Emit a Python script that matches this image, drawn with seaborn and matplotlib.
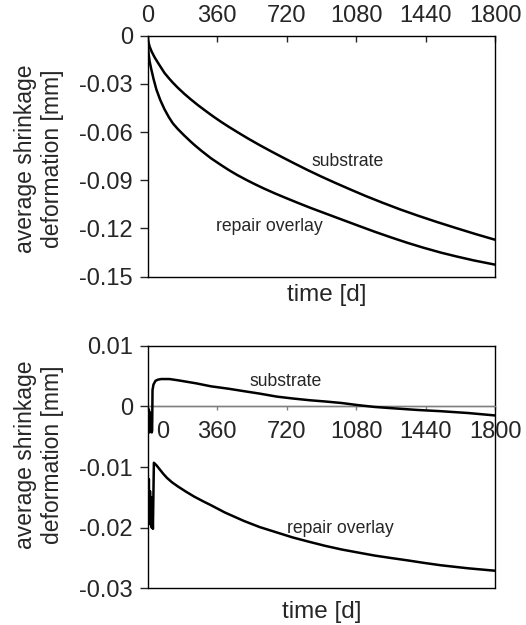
import numpy as np
import pandas as pd
import matplotlib
matplotlib.use("Agg")
import matplotlib.pyplot as plt
import matplotlib.transforms as mtransforms
import seaborn as sns

# 数据
days_ticks = [0, 360, 720, 1080, 1440, 1800]

# upper panel: total shrinkage deformation
top_sub_days = [0, 2, 5, 10, 20, 36, 55, 70, 87, 110, 130, 156, 190, 220, 260, 300, 340, 380, 420, 470,
                520, 580, 640, 700, 760, 830, 900, 970, 1050, 1130, 1220, 1310, 1400, 1500, 1600, 1700, 1800]
top_sub_vals = [0, -0.0027, -0.0045, -0.0068, -0.0098, -0.0135, -0.0172, -0.0200, -0.0232, -0.0265,
                -0.0292, -0.0324, -0.0362, -0.0393, -0.0432, -0.0468, -0.0503, -0.0536, -0.0567, -0.0604,
                -0.0640, -0.0681, -0.0720, -0.0758, -0.0795, -0.0837, -0.0877, -0.0915, -0.0957, -0.0998,
                -0.1041, -0.1082, -0.1120, -0.1160, -0.1198, -0.1235, -0.1270]
top_rep_days = [0, 1, 3, 6, 10, 19, 30, 45, 65, 87, 110, 130, 156, 190, 220, 242, 280, 328, 380, 420,
                465, 520, 560, 602, 660, 720, 773, 840, 920, 1005, 1090, 1176, 1260, 1348, 1430, 1519,
                1600, 1691, 1800]
top_rep_vals = [0, -0.0050, -0.0090, -0.0125, -0.0160, -0.0211, -0.0268, -0.0335, -0.0400, -0.0458,
                -0.0508, -0.0545, -0.0581, -0.0622, -0.0656, -0.0680, -0.0718, -0.0763, -0.0805, -0.0836,
                -0.0868, -0.0903, -0.0927, -0.0951, -0.0982, -0.1012, -0.1038, -0.1070, -0.1106, -0.1144,
                -0.1182, -0.1220, -0.1255, -0.1290, -0.1320, -0.1350, -0.1374, -0.1399, -0.1425]

# lower panel: relative deformation
bot_sub_days = [0, 3, 6, 9, 12, 15, 18, 21, 23, 25, 30, 40, 53, 70, 113, 156, 250, 328, 420, 499,
                580, 670, 750, 842, 920, 1005, 1090, 1176, 1262, 1400, 1519, 1660, 1800]
bot_sub_vals = [0, -0.0042, -0.0005, -0.0043, -0.0010, -0.0040, -0.0015, -0.0043, -0.0040, 0.0027,
                0.0036, 0.0042, 0.0044, 0.0045, 0.0045, 0.0043, 0.0038, 0.0033, 0.0029, 0.0025,
                0.0021, 0.0016, 0.0013, 0.0010, 0.0008, 0.00055, 0.0002, -0.0001, -0.0003, -0.0006,
                -0.0008, -0.0011, -0.0015]
bot_rep_days = [0, 3, 6, 9, 12, 15, 18, 21, 24, 27, 32, 45, 60, 80, 100, 125, 156, 200, 242, 290,
                328, 400, 499, 580, 670, 750, 833, 920, 1005, 1090, 1176, 1260, 1348, 1430, 1519,
                1660, 1800]
bot_rep_vals = [-0.0105, -0.0165, -0.0120, -0.0185, -0.0140, -0.0195, -0.0150, -0.0200, -0.0170, -0.0202,
                -0.0093, -0.0097, -0.0103, -0.0111, -0.0118, -0.0125, -0.0132, -0.0141, -0.0149, -0.0157,
                -0.0163, -0.0175, -0.0189, -0.0199, -0.0208, -0.0216, -0.0223, -0.0230, -0.0236, -0.0241,
                -0.0246, -0.0250, -0.0254, -0.0258, -0.0262, -0.0267, -0.0271]

top_yticks = [0, -0.03, -0.06, -0.09, -0.12, -0.15]
bot_yticks = [0.01, 0, -0.01, -0.02, -0.03]

sns.set_style("ticks")
plt.rcParams['font.family'] = ['Liberation Sans', 'DejaVu Sans']
plt.rcParams['axes.unicode_minus'] = False

fs = 17
fs_lab = 17.5
fs_small = 12.7
lw = 1.8

fig = plt.figure(figsize=(5.26, 6.25), dpi=100)
ax1 = fig.add_axes([0.2808, 0.5573, 0.6603, 0.3856])
ax2 = fig.add_axes([0.2808, 0.0587, 0.6603, 0.3882])

fmt = matplotlib.ticker.FuncFormatter(lambda v, p: f'{v:g}')

# 上图
sns.lineplot(x=top_sub_days, y=top_sub_vals, ax=ax1, color='black', lw=lw, sort=False, estimator=None)
sns.lineplot(x=top_rep_days, y=top_rep_vals, ax=ax1, color='black', lw=lw, sort=False, estimator=None)
ax1.set_xlim(0, 1800)
ax1.set_ylim(-0.15, 0)
ax1.set_xticks(days_ticks)
ax1.set_yticks(top_yticks)
ax1.yaxis.set_major_formatter(fmt)
ax1.xaxis.tick_top()
ax1.tick_params(axis='x', direction='in', length=4, pad=6, labelsize=fs, width=1)
ax1.tick_params(axis='y', direction='out', length=6, pad=4.5, labelsize=fs, width=1)
for s in ax1.spines.values():
    s.set_visible(True)
    s.set_color('black')
    s.set_linewidth(1.0)
ax1.set_xlabel('')
ax1.set_ylabel('')
ax1.text(1034, -0.0786, 'substrate', fontsize=fs_small, ha='center', va='center')
ax1.text(628, -0.1187, 'repair overlay', fontsize=fs_small, ha='center', va='center')
ax1.text(0.516, -0.076, 'time [d]', fontsize=fs_lab, ha='center', va='center', transform=ax1.transAxes)
ax1.text(-0.313, 0.49, 'average shrinkage\ndeformation [mm]', fontsize=16.5, ha='center', va='center',
         rotation=90, linespacing=1.2, transform=ax1.transAxes)

# 下图
ax2.axhline(0, color='gray', lw=1.0, zorder=1)
sns.lineplot(x=bot_sub_days, y=bot_sub_vals, ax=ax2, color='black', lw=lw, sort=False, estimator=None, zorder=3)
sns.lineplot(x=bot_rep_days, y=bot_rep_vals, ax=ax2, color='black', lw=lw, sort=False, estimator=None, zorder=3)
ax2.set_xlim(0, 1800)
ax2.set_ylim(-0.03, 0.01)
ax2.set_xticks(days_ticks)
ax2.set_yticks(bot_yticks)
ax2.yaxis.set_major_formatter(fmt)
ax2.spines['bottom'].set_position(('data', 0))
ax2.spines['bottom'].set_color('gray')
ax2.spines['bottom'].set_linewidth(1.0)
for k in ['top', 'left', 'right']:
    ax2.spines[k].set_visible(True)
    ax2.spines[k].set_color('black')
    ax2.spines[k].set_linewidth(1.0)
ax2.plot([0, 1], [0, 0], transform=ax2.transAxes, color='black', lw=1.0, clip_on=False)
ax2.tick_params(axis='x', direction='out', length=3, pad=7.5, labelsize=fs, color='gray', width=1)
ax2.tick_params(axis='y', direction='out', length=6, pad=4.5, labelsize=fs, width=1)
ax2.set_xlabel('')
ax2.set_ylabel('')
lab0 = ax2.get_xticklabels()[0]
lab0.set_transform(lab0.get_transform() + mtransforms.ScaledTranslation(0.15, 0, fig.dpi_scale_trans))
ax2.text(996, -0.0202, 'repair overlay', fontsize=fs_small, ha='center', va='center')
ax2.text(713, 0.0041, 'substrate', fontsize=fs_small, ha='center', va='center')
ax2.text(0.501, -0.096, 'time [d]', fontsize=fs_lab, ha='center', va='center', transform=ax2.transAxes)
ax2.text(-0.313, 0.55, 'average shrinkage\ndeformation [mm]', fontsize=16.5, ha='center', va='center',
         rotation=90, linespacing=1.2, transform=ax2.transAxes)

fig.savefig('out.png', dpi=100)
